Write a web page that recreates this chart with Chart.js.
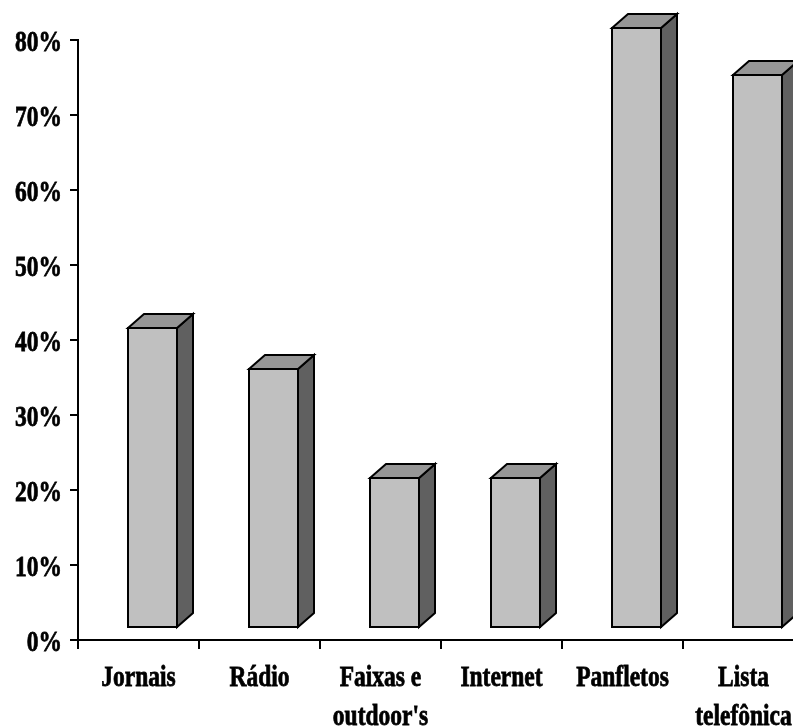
<!DOCTYPE html>
<html>
<head>
<meta charset="utf-8">
<script src="https://cdn.jsdelivr.net/npm/chart.js@4/dist/chart.umd.min.js"></script>
<style>
  html, body { margin: 0; padding: 0; background: #fff; overflow: hidden; }
  #wrap { width: 806px; height: 726px; position: relative; }
</style>
</head>
<body>
<div id="wrap"><canvas id="chart"></canvas></div>
<script>
// Media used (share of respondents, %)
const categories = [
  ['Jornais'],
  ['Rádio'],
  ['Faixas e', "outdoor's"],
  ['Internet'],
  ['Panfletos'],
  ['Lista', 'telefônica']
];
const shares = [40, 34.6, 20, 20, 80, 73.7];
const yTicks = [0, 10, 20, 30, 40, 50, 60, 70, 80];

const FONT = '700 23.5px "Liberation Serif", "Times New Roman", serif';
const STRETCH = 1.29;

function stretchedText(ctx, text, x, y, align) {
  ctx.save();
  ctx.translate(x, y);
  ctx.scale(1, STRETCH);
  ctx.font = FONT;
  ctx.fillStyle = '#000';
  ctx.strokeStyle = '#000';
  ctx.lineWidth = 0.6;
  ctx.textAlign = align;
  ctx.textBaseline = 'alphabetic';
  ctx.fillText(text, 0, 0);
  ctx.strokeText(text, 0, 0);
  ctx.restore();
}

// Draws each bar as a box: front face, top and right side
const boxBars = {
  id: 'boxBars',
  afterDatasetsDraw(chart) {
    const ctx = chart.ctx;
    const meta = chart.getDatasetMeta(0);
    const dx = 16, dy = 14, lift = 12, shift = 13.5;
    meta.data.forEach(el => {
      const p = el.getProps(['x', 'y', 'base', 'width'], true);
      const w = Math.round(p.width);
      const x1 = Math.round(p.x - p.width / 2 + shift);
      const x2 = x1 + w;
      const yt = Math.round(p.y - lift);
      const yb = Math.round(p.base - lift);
      ctx.save();
      ctx.lineWidth = 2;
      ctx.lineJoin = 'miter';
      ctx.strokeStyle = '#000';
      // side
      ctx.beginPath();
      ctx.moveTo(x2, yt);
      ctx.lineTo(x2 + dx, yt - dy);
      ctx.lineTo(x2 + dx, yb - dy);
      ctx.lineTo(x2, yb);
      ctx.closePath();
      ctx.fillStyle = '#606060';
      ctx.fill();
      ctx.stroke();
      // top
      ctx.beginPath();
      ctx.moveTo(x1, yt);
      ctx.lineTo(x1 + dx, yt - dy);
      ctx.lineTo(x2 + dx, yt - dy);
      ctx.lineTo(x2, yt);
      ctx.closePath();
      ctx.fillStyle = '#969696';
      ctx.fill();
      ctx.stroke();
      // front
      ctx.beginPath();
      ctx.rect(x1, yt, w, yb - yt);
      ctx.fillStyle = '#C0C0C0';
      ctx.fill();
      ctx.stroke();
      ctx.restore();
    });
  },
  afterDraw(chart) {
    const ctx = chart.ctx;
    const ys = chart.scales.y;
    const xs = chart.scales.x;
    ys.ticks.forEach(t => {
      const py = ys.getPixelForValue(t.value);
      stretchedText(ctx, t.value + '%', 62, py + 11, 'right');
    });
    const axisY = chart.chartArea.bottom;
    chart.data.labels.forEach((lines, i) => {
      const cx = xs.getPixelForTick(i);
      lines.forEach((line, j) => {
        stretchedText(ctx, line, cx, axisY + 46 + j * 39, 'center');
      });
    });
  }
};

new Chart(document.getElementById('chart'), {
  type: 'bar',
  data: {
    labels: categories,
    datasets: [{
      data: shares,
      backgroundColor: 'rgba(0,0,0,0)',
      borderWidth: 0,
      barPercentage: 49 / 121,
      categoryPercentage: 1
    }]
  },
  options: {
    responsive: true,
    maintainAspectRatio: false,
    animation: false,
    devicePixelRatio: 1,
    layout: { padding: { top: 40, left: 0, right: 2, bottom: 0 } },
    plugins: { legend: { display: false }, tooltip: { enabled: false } },
    scales: {
      x: {
        type: 'category',
        offset: true,
        grid: {
          display: true, offset: true, drawOnChartArea: false, drawTicks: true,
          tickLength: 9, color: '#000', lineWidth: 2
        },
        border: { display: true, color: '#000', width: 2 },
        ticks: { display: false },
        afterFit(s) { s.height = 86; }
      },
      y: {
        min: 0,
        max: 80,
        afterBuildTicks(s) { s.ticks = yTicks.map(v => ({ value: v })); },
        grid: {
          display: true, drawOnChartArea: false, drawTicks: true,
          tickLength: 8, color: '#000', lineWidth: 2
        },
        border: { display: true, color: '#000', width: 2 },
        ticks: { display: false },
        afterFit(s) { s.width = 78; }
      }
    }
  },
  plugins: [boxBars]
});
</script>
</body>
</html>
